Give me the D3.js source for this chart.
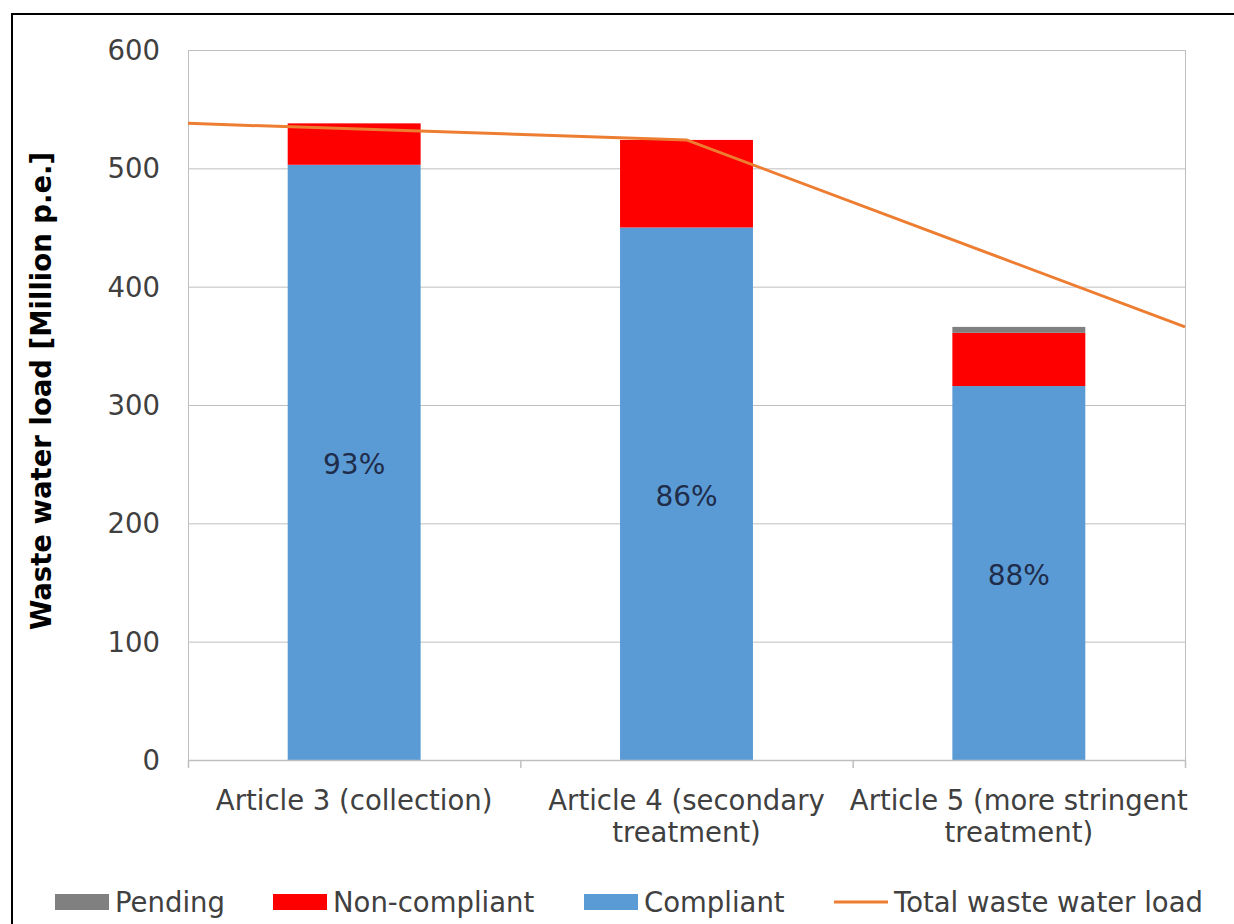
<!DOCTYPE html>
<html>
<head>
<meta charset="utf-8">
<script src="https://cdn.jsdelivr.net/npm/d3@7"></script>
<style>
  html, body { margin: 0; padding: 0; background: #fff; }
  svg { display: block; }
  text { font-family: "DejaVu Sans", Verdana, sans-serif; }
</style>
</head>
<body>
<svg id="chart" width="1234" height="924"></svg>
<script>
const categories = [["Article 3 (collection)"], ["Article 4 (secondary", "treatment)"], ["Article 5 (more stringent", "treatment)"]];
const compliant = [503, 450, 316];
const nonCompliant = [35, 74, 45];
const pending = [0, 0, 5];
const totalLoad = [538, 524, 366];
const pctLabels = ["93%", "86%", "88%"];
const yTicks = [0, 100, 200, 300, 400, 500, 600];
const seriesNames = ["Pending", "Non-compliant", "Compliant", "Total waste water load"];
const colors = { compliant: "#5B9BD5", nonCompliant: "#FF0000", pending: "#808080", line: "#ED7D31" };

const svg = d3.select("#chart");
const W = 1234, H = 924;
const m = { left: 188, right: 1185, top: 50, bottom: 760 };
const FS = 27.5;

// outer frame
svg.append("rect").attr("x", 12).attr("y", 14).attr("width", W + 20).attr("height", H + 20)
  .attr("fill", "none").attr("stroke", "#000").attr("stroke-width", 2);

const idx = d3.range(categories.length);
const x = d3.scaleBand().domain(idx).range([m.left, m.right]).paddingInner(0.6).paddingOuter(0.3);
const xLine = d3.scalePoint().domain(idx).range([m.left, m.right]);
const y = d3.scaleLinear().domain([0, 600]).range([m.bottom, m.top]);

// gridlines
svg.append("g").selectAll("line").data(yTicks.filter(d => d > 0)).join("line")
  .attr("x1", m.left).attr("x2", m.right)
  .attr("y1", d => y(d) + 0.5).attr("y2", d => y(d) + 0.5)
  .attr("stroke", "#BFBFBF").attr("stroke-width", 1);
// left & right plot borders
svg.append("line").attr("x1", m.left + 0.5).attr("x2", m.left + 0.5).attr("y1", m.top).attr("y2", m.bottom)
  .attr("stroke", "#BFBFBF");
svg.append("line").attr("x1", m.right + 0.5).attr("x2", m.right + 0.5).attr("y1", m.top).attr("y2", m.bottom)
  .attr("stroke", "#BFBFBF");

// y axis labels
const yAxis = d3.axisLeft(y).tickValues(yTicks).tickSize(0).tickPadding(28);
const gy = svg.append("g").attr("transform", `translate(${m.left},0)`).call(yAxis);
gy.select(".domain").remove();
gy.selectAll("text").attr("font-size", FS).attr("fill", "#404040").attr("dy", "0.34em")
  .style("font-family", '"DejaVu Sans", Verdana, sans-serif');

// stacked bars
const stacks = idx.map(i => {
  const c1 = compliant[i];
  const n1 = c1 + nonCompliant[i];
  const p1 = n1 + pending[i];
  return [
    { i, y0: 0, y1: c1, color: colors.compliant },
    { i, y0: c1, y1: n1, color: colors.nonCompliant },
    { i, y0: n1, y1: p1, color: colors.pending }
  ];
}).flat().filter(d => d.y1 > d.y0);
svg.append("g").selectAll("rect").data(stacks).join("rect")
  .attr("x", d => x(d.i)).attr("width", x.bandwidth())
  .attr("y", d => y(d.y1)).attr("height", d => y(d.y0) - y(d.y1))
  .attr("fill", d => d.color);

// x axis
const xb = d3.scaleLinear().domain([0, categories.length]).range([m.left, m.right]);
const gx = svg.append("g");
gx.append("line").attr("x1", m.left).attr("x2", m.right).attr("y1", m.bottom + 0.5).attr("y2", m.bottom + 0.5)
  .attr("stroke", "#BFBFBF").attr("stroke-width", 1.5);
gx.selectAll("line.tick").data(d3.range(categories.length + 1)).join("line").attr("class", "tick")
  .attr("x1", d => xb(d) + 0.5).attr("x2", d => xb(d) + 0.5)
  .attr("y1", m.bottom).attr("y2", m.bottom + 8).attr("stroke", "#BFBFBF").attr("stroke-width", 1.5);
const xl = gx.selectAll("text").data(idx).join("text")
  .attr("x", i => x(i) + x.bandwidth() / 2)
  .attr("y", m.bottom + 50)
  .attr("text-anchor", "middle").attr("font-size", FS).attr("fill", "#404040");
xl.each(function(i) {
  const t = d3.select(this);
  categories[i].forEach((line, k) => {
    t.append("tspan").attr("x", x(i) + x.bandwidth() / 2).attr("dy", k === 0 ? 0 : 32).text(line);
  });
});

// line
const lineGen = d3.line().x((d, i) => xLine(i)).y(d => y(d));
svg.append("path").datum(totalLoad).attr("d", lineGen)
  .attr("fill", "none").attr("stroke", colors.line).attr("stroke-width", 3);

// percentage labels
svg.append("g").selectAll("text").data(idx).join("text")
  .attr("x", i => x(i) + x.bandwidth() / 2)
  .attr("y", i => y(compliant[i] / 2) + 12)
  .attr("text-anchor", "middle").attr("font-size", 28).attr("fill", "#1F2D4A")
  .text(i => pctLabels[i]);

// y title
svg.append("text").attr("transform", `translate(51,${(m.top + m.bottom) / 2 - 14}) rotate(-90)`)
  .attr("text-anchor", "middle").attr("font-size", FS).attr("font-weight", "bold").attr("fill", "#000")
  .text("Waste water load [Million p.e.]");

// legend
const legendItems = [
  { name: seriesNames[0], type: "rect", color: colors.pending, x: 55 },
  { name: seriesNames[1], type: "rect", color: colors.nonCompliant, x: 273 },
  { name: seriesNames[2], type: "rect", color: colors.compliant, x: 584 },
  { name: seriesNames[3], type: "line", color: colors.line, x: 834 }
];
const lg = svg.append("g").selectAll("g").data(legendItems).join("g")
  .attr("transform", d => `translate(${d.x},902)`);
lg.filter(d => d.type === "rect").append("rect").attr("x", 0).attr("y", -8).attr("width", 54).attr("height", 16)
  .attr("fill", d => d.color);
lg.filter(d => d.type === "line").append("line").attr("x1", 0).attr("x2", 54).attr("y1", 0).attr("y2", 0)
  .attr("stroke", d => d.color).attr("stroke-width", 3);
lg.append("text").attr("x", 60).attr("y", 10).attr("font-size", FS).attr("fill", "#404040").text(d => d.name);
</script>
</body>
</html>
